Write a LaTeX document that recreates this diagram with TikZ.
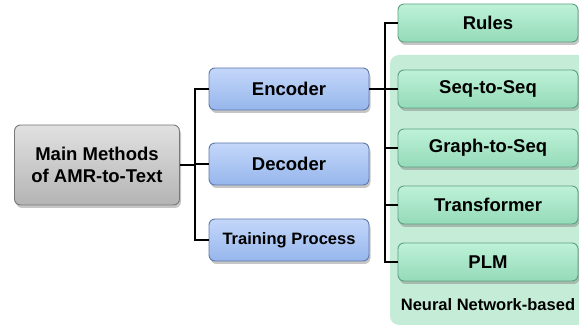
\documentclass[tikz,border=0pt]{standalone}
\usepackage{fontspec}
\setmainfont{Liberation Sans}
\usetikzlibrary{shadows}

\definecolor{graytop}{RGB}{225,225,225}
\definecolor{graybot}{RGB}{180,180,180}
\definecolor{grayline}{RGB}{120,120,120}
\definecolor{bluetop}{RGB}{196,215,250}
\definecolor{bluebot}{RGB}{150,182,236}
\definecolor{blueline}{RGB}{95,120,170}
\definecolor{greentop}{RGB}{190,242,216}
\definecolor{greenbot}{RGB}{148,218,184}
\definecolor{greenline}{RGB}{95,160,130}
\definecolor{panelfill}{RGB}{196,236,214}

\tikzset{
  box/.style = {align=center, inner sep=0pt, text centered, rounded corners=6pt,
    font=\bfseries\fontsize{18.5}{22}\selectfont, line width=0.9pt,
    drop shadow={shadow xshift=1.5pt, shadow yshift=-3pt, opacity=0.45}},
  mainbox/.style = {box, draw=grayline, top color=graytop, bottom color=graybot,
    minimum width=165pt, minimum height=80pt},
  partbox/.style = {box, draw=blueline, top color=bluetop, bottom color=bluebot,
    minimum width=160pt, minimum height=42pt},
  methodbox/.style = {box, draw=greenline, top color=greentop, bottom color=greenbot,
    minimum width=180pt, minimum height=38pt},
  conn/.style = {draw=black, line width=1.2pt}
}

\begin{document}
\begin{tikzpicture}[x=1pt, y=-1pt]
\useasboundingbox (0,0) rectangle (579,328);
\fill[panelfill, rounded corners=9pt] (390,55) rectangle (590,325);
\node (nnlabel) at (488,305) {\bfseries\fontsize{16.5}{19}\selectfont Neural Network-based};

\node [mainbox] (main) at (97,165) {Main Methods\\of AMR-to-Text};

\node [partbox] (enc) at (289,89) {Encoder};
\node [partbox] (dec) at (289,164) {Decoder};
\node [partbox, font=\bfseries\fontsize{16.5}{19}\selectfont] (train) at (289,240) {Training Process};

\node [methodbox] (rules) at (488,23) {Rules};
\node [methodbox] (seq) at (488,89) {Seq-to-Seq};
\node [methodbox] (graph) at (488,148) {Graph-to-Seq};
\node [methodbox] (trans) at (488,205) {Transformer};
\node [methodbox] (plm) at (488,262) {PLM};

\coordinate (lj) at (195,165);
\coordinate (rj) at (385,89);

\draw [conn] (main.east) -- (lj);
\draw [conn] (enc.west) -| (lj) |- (train.west);
\draw [conn] (dec.west) -- (dec.west -| lj);

\draw [conn] (enc.east) -- (rj);
\draw [conn] (rules.west) -| (rj) |- (plm.west);
\foreach \n in {seq,graph,trans}
  \draw [conn] (\n.west) -- (\n.west -| rj);
\end{tikzpicture}
\end{document}
